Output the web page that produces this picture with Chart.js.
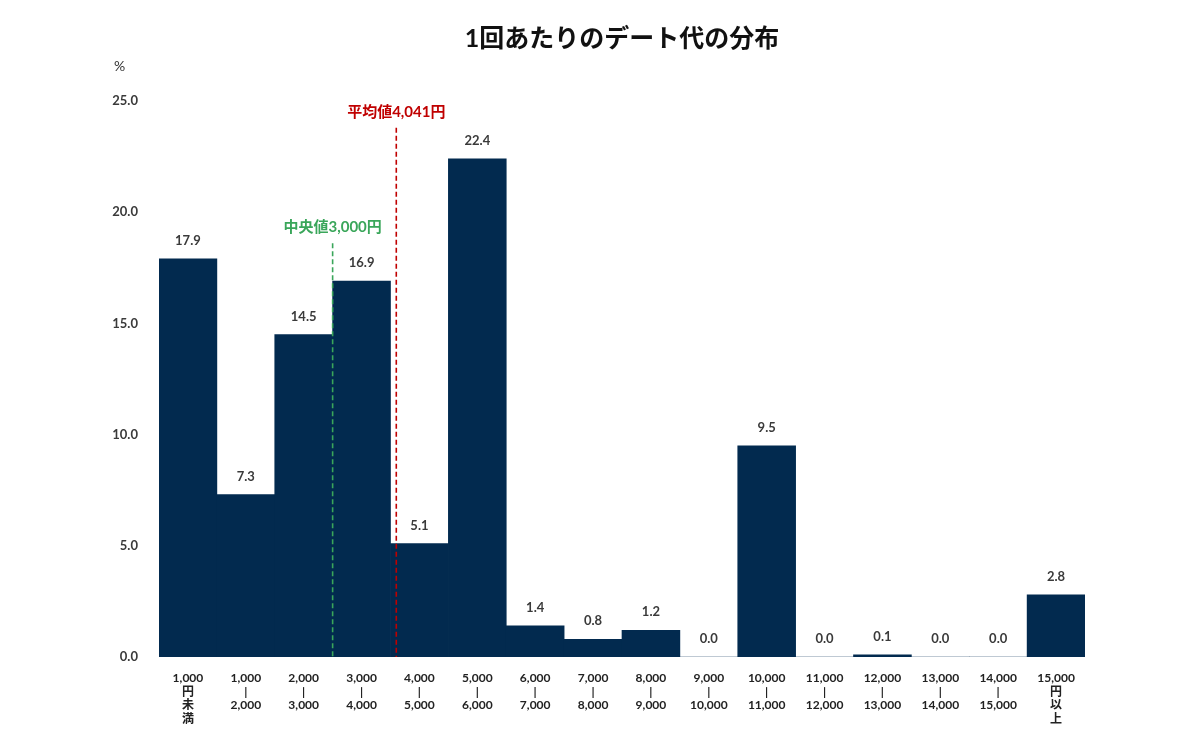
<!DOCTYPE html>
<html lang="ja">
<head>
<meta charset="utf-8">
<script src="https://cdn.jsdelivr.net/npm/chart.js@4"></script>
<style>
  html, body { margin: 0; padding: 0; background: #fff; }
  #wrap { width: 1200px; height: 745px; }
</style>
</head>
<body>
<div id="wrap"><canvas id="dateChart"></canvas></div>
<script>
// data
const categories = [
    ['1,000', '円', '未', '満'],
    ['1,000', '|', '2,000'],
    ['2,000', '|', '3,000'],
    ['3,000', '|', '4,000'],
    ['4,000', '|', '5,000'],
    ['5,000', '|', '6,000'],
    ['6,000', '|', '7,000'],
    ['7,000', '|', '8,000'],
    ['8,000', '|', '9,000'],
    ['9,000', '|', '10,000'],
    ['10,000', '|', '11,000'],
    ['11,000', '|', '12,000'],
    ['12,000', '|', '13,000'],
    ['13,000', '|', '14,000'],
    ['14,000', '|', '15,000'],
    ['15,000', '円', '以', '上']
];
const shares = [17.9, 7.3, 14.5, 16.9, 5.1, 22.4, 1.4, 0.8, 1.2, 0.0, 9.5, 0.0, 0.1, 0.0, 0.0, 2.8];
const yTicks = [0, 5, 10, 15, 20, 25];

// reference lines: position in category units from the left edge, and top value
const medianLine = { label: '中央値3,000円', pos: 3.0, top: 18.6, color: '#3aa65a' };
const meanLine = { label: '平均値4,041円', pos: 4.1, top: 23.8, color: '#c00000' };

const TITLE = '1回あたりのデート代の分布';
const FONT = "Lato, 'Noto Sans CJK JP', sans-serif";

// title, value labels, marker lines and the % unit
const overlay = {
    id: 'overlay',
    afterDatasetsDraw(chart) {
        const { ctx, chartArea, scales: { x, y } } = chart;
        ctx.save();
        ctx.textAlign = 'center';
        ctx.textBaseline = 'middle';

        ctx.fillStyle = '#111';
        ctx.font = 'bold 25px ' + FONT;
        ctx.fillText(TITLE, (chartArea.left + chartArea.right) / 2, 39);

        ctx.font = 'bold 13px ' + FONT;
        ctx.fillStyle = '#3a3a3a';
        shares.forEach((v, i) => {
            ctx.fillText(v.toFixed(1), x.getPixelForValue(i), y.getPixelForValue(v) - 18);
        });

        const step = x.getPixelForValue(1) - x.getPixelForValue(0);
        const left = x.getPixelForValue(0) - step / 2;
        [medianLine, meanLine].forEach(m => {
            const px = left + m.pos * step;
            const top = y.getPixelForValue(m.top);
            ctx.strokeStyle = m.color;
            ctx.lineWidth = 1.6;
            ctx.setLineDash([5, 3]);
            ctx.beginPath();
            ctx.moveTo(px, top);
            ctx.lineTo(px, y.getPixelForValue(0));
            ctx.stroke();
            ctx.setLineDash([]);
            ctx.fillStyle = m.color;
            ctx.font = 'bold 15px ' + FONT;
            ctx.fillText(m.label, px, top - 16);
        });

        ctx.fillStyle = '#333';
        ctx.font = '14px ' + FONT;
        ctx.textAlign = 'left';
        ctx.fillText('%', 114, 66);
        ctx.restore();
    }
};

const chart = new Chart(document.getElementById('dateChart'), {
    type: 'bar',
    data: {
        labels: categories,
        datasets: [{
            data: shares,
            backgroundColor: '#022a4f',
            borderWidth: 0,
            categoryPercentage: 1.0,
            barPercentage: 1.0
        }]
    },
    options: {
        responsive: true,
        maintainAspectRatio: false,
        animation: false,
        layout: { padding: { left: 0, right: 115, top: 101, bottom: 0 } },
        plugins: {
            legend: { display: false },
            tooltip: { enabled: false },
            title: { display: false }
        },
        scales: {
            x: {
                grid: { display: false },
                border: { display: false },
                ticks: {
                    color: '#222',
                    autoSkip: false,
                    maxRotation: 0,
                    padding: 6,
                    font: { family: FONT, size: 12, weight: 'bold', lineHeight: 1.15 }
                },
                afterFit(s) { s.height = 88; }
            },
            y: {
                min: 0,
                max: 25,
                afterBuildTicks(s) { s.ticks = yTicks.map(v => ({ value: v })); },
                grid: { display: false },
                border: { display: false },
                ticks: {
                    color: '#3a3a3a',
                    padding: 13,
                    font: { family: FONT, size: 13, weight: 'bold' },
                    callback: v => v.toFixed(1)
                },
                afterFit(s) { s.width = 159; }
            }
        }
    },
    plugins: [overlay]
});
</script>
</body>
</html>
